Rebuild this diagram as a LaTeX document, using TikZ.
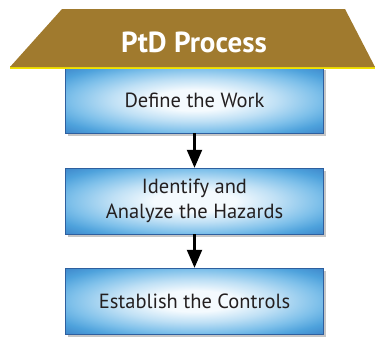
\documentclass[tikz,border=0pt]{standalone}
\usepackage{fontspec}
\setmainfont{PT Sans}
\usetikzlibrary{shadows,arrows.meta}
\definecolor{gold}{HTML}{A07A2E}
\definecolor{yel}{HTML}{F2E200}
\definecolor{edgeblue}{HTML}{2E5F9E}
\definecolor{txt}{HTML}{231F20}
\definecolor{sA}{HTML}{F4FAFE}
\definecolor{sB}{HTML}{BFE0F5}
\definecolor{sC}{HTML}{7EC0EA}
\definecolor{sD}{HTML}{4EA2DC}
\definecolor{sE}{HTML}{3A7FC6}
\definecolor{sF}{HTML}{2B5A9E}
\pgfdeclareradialshading{boxshade}{\pgfpoint{0bp}{0bp}}{%
 color(0bp)=(sA);
 color(8bp)=(sA);
 color(16bp)=(sB);
 color(24bp)=(sC);
 color(30bp)=(sD);
 color(37bp)=(sE);
 color(46bp)=(sF);
 color(50bp)=(sF)}
\tikzset{
  stepbox/.style={shading=boxshade, draw=edgeblue, line width=0.4pt,
    minimum width=258pt, minimum height=66pt, inner sep=0pt,
    align=center, font=\fontsize{20.5}{25}\selectfont, text=txt,
    drop shadow={shadow xshift=2pt, shadow yshift=-2.5pt, opacity=0.45}},
  flow/.style={line width=2.2pt, -{Triangle[length=18pt,width=15pt]}}
}
\begin{document}
\begin{tikzpicture}[x=1pt,y=-1pt]
\useasboundingbox (0,0) rectangle (375,338);
\node[stepbox] (b3) at (194.5,301) {Establish the Controls};
\node[stepbox] (b2) at (194.5,201) {Identify and\\Analyze the Hazards};
\node[stepbox] (b1) at (194.5,100) {Define the Work};
\fill[yel] (10,66) -- (375,66) -- (375,69) -- (10,69) -- cycle;
\fill[gold] (62,9) -- (345,9) -- (375,67) -- (10,67) -- cycle;
\node[text=white, font=\fontsize{29}{34}\selectfont\bfseries] (title) at (194,42) {PtD Process};
\draw[flow] (b1) -- (b2);
\draw[flow] (b2) -- (b3);
\end{tikzpicture}
\end{document}
